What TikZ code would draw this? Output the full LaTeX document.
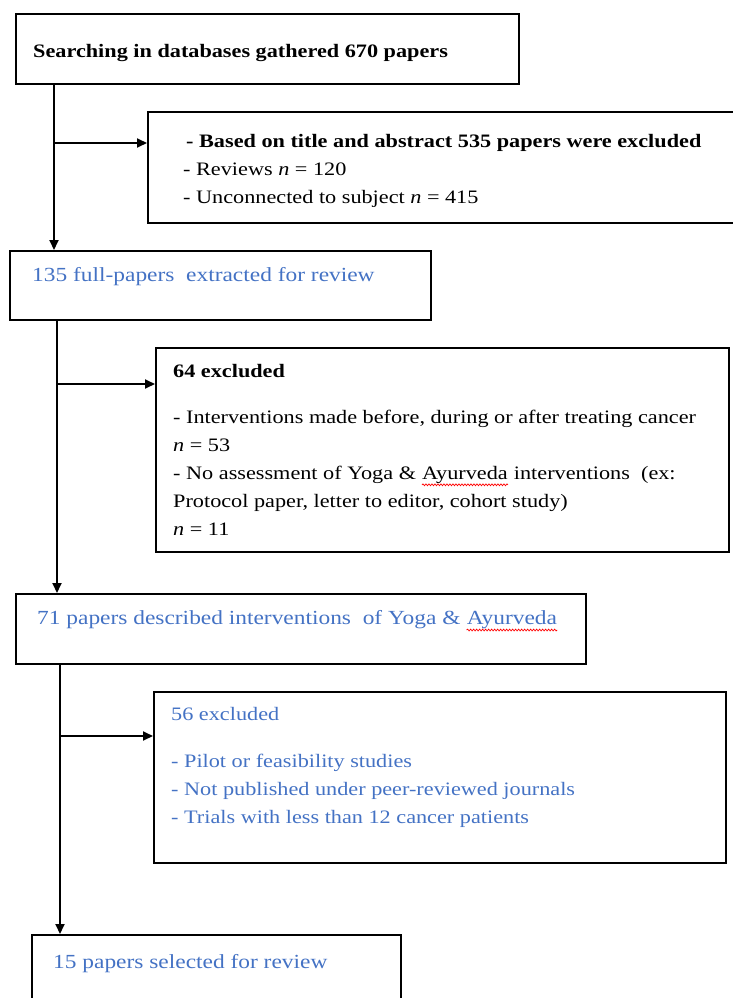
\documentclass[tikz,border=0pt]{standalone}
\usepackage{fontspec}
\setmainfont[FakeStretch=1.17]{Liberation Serif}
\usepackage{xcolor}
\usetikzlibrary{arrows.meta,decorations.pathmorphing}

\definecolor{wordblue}{RGB}{68,114,196}
% red spell-check wave under a word
\newcommand{\wavy}[1]{\tikz[baseline=(wv.base)]{\node[inner sep=0pt] (wv) {#1};
  \draw[red,line width=0.7pt,decorate,decoration={snake,amplitude=0.9pt,segment length=3pt}] ([yshift=-1.5pt]wv.south west) -- ([yshift=-1.5pt]wv.south east);}}

\begin{document}
\begin{tikzpicture}[x=1pt,y=-1pt,
  box/.style={draw,line width=1.8pt,anchor=north west,inner sep=0pt},
  txt/.style={anchor=base west,inner sep=0pt,align=left,font=\fontsize{19}{28}\selectfont},
  stage/.style={txt,text=wordblue,font=\fontsize{20}{28}\selectfont},
  flow/.style={line width=1.8pt},
  arr/.style={flow,-{Triangle[length=10pt,width=9pt]}}]
\useasboundingbox (0,0) rectangle (733,998);

% Boxes
\node[box,minimum width=503pt,minimum height=70pt] (search) at (15,13) {};
\node[box,minimum width=600pt,minimum height=111pt] (excl1) at (147,111) {};
\node[box,minimum width=421pt,minimum height=69pt] (fulltext) at (9,250) {};
\node[box,minimum width=573pt,minimum height=204pt] (excl2) at (155,347) {};
\node[box,minimum width=570pt,minimum height=70pt] (interv) at (15,593) {};
\node[box,minimum width=572pt,minimum height=171pt] (excl3) at (153,691) {};
\node[box,minimum width=369pt,minimum height=90pt] (selected) at (31,934) {};

% Texts (multi-line nodes sit on their last baseline)
\node[txt,font=\fontsize{19}{28}\selectfont\bfseries] (searcht) at (33,57) {Searching in databases gathered 670 papers};
\node[txt] (excl1t) at (183,203) {\hspace{3pt}\textbf{- Based on title and abstract 535 papers were excluded}\\
  - Reviews \textit{n} = 120\\
  - Unconnected to subject \textit{n} = 415};
\node[stage] (fulltextt) at (32,281) {135 full-papers \ extracted for review};
\node[txt] (excl2t) at (173,535) {\textbf{64 excluded}\\[18pt]
  - Interventions made before, during or after treating cancer\\
  \textit{n} = 53\\
  - No assessment of Yoga \& \wavy{Ayurveda} interventions \ (ex:\\
  Protocol paper, letter to editor, cohort study)\\
  \textit{n} = 11};
\node[stage] (intervt) at (37,624) {71 papers described interventions \ of Yoga \& \wavy{Ayurveda}};
\node[txt,text=wordblue] (excl3t) at (171,823) {56 excluded\\[19pt]
  - Pilot or feasibility studies\\
  - Not published under peer-reviewed journals\\
  - Trials with less than 12 cancer patients};
\node[stage] (selectedt) at (53,968) {15 papers selected for review};

% Flow lines
\coordinate (j1) at (54,143);
\coordinate (j2) at (57,384);
\coordinate (j3) at (60,736);
\draw[arr] (search.south -| j1) -- (fulltext.north -| j1);
\draw[arr] (j1) -- (excl1.west |- j1);
\draw[arr] (fulltext.south -| j2) -- (interv.north -| j2);
\draw[arr] (j2) -- (excl2.west |- j2);
\draw[arr] (interv.south -| j3) -- (selected.north -| j3);
\draw[arr] (j3) -- (excl3.west |- j3);
\end{tikzpicture}
\end{document}
